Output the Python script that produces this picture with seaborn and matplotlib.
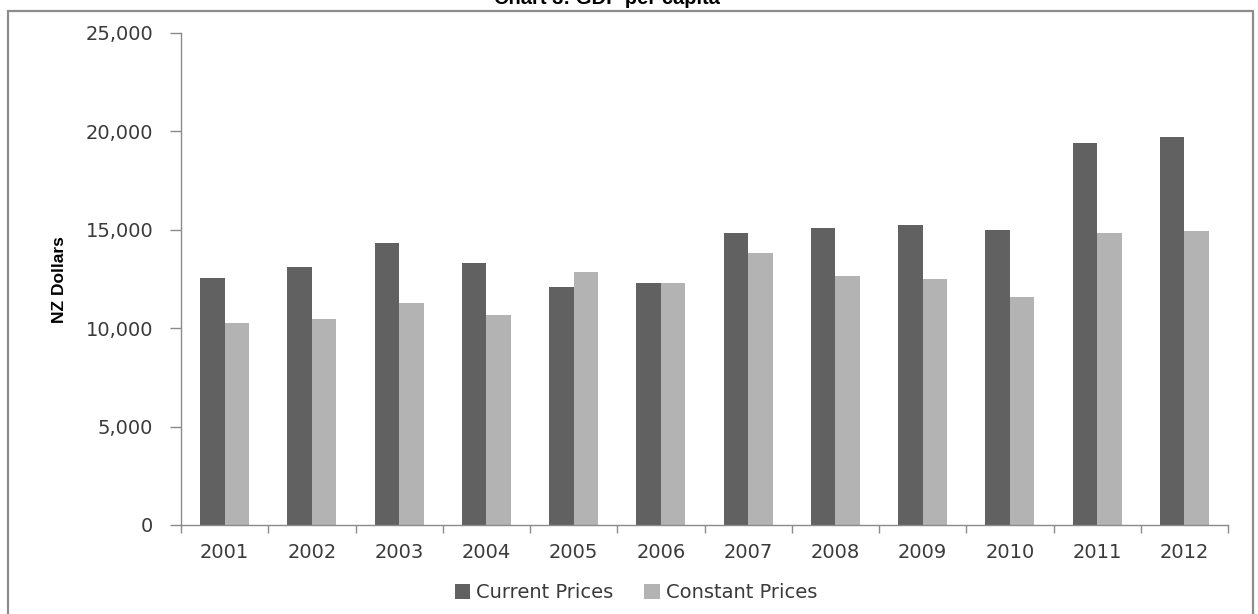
import matplotlib
matplotlib.use("Agg")
import matplotlib.pyplot as plt
from matplotlib.patches import Patch, Rectangle
from matplotlib.ticker import FuncFormatter, FixedLocator
import numpy as np
import pandas as pd
import seaborn as sns

# GDP per capita, NZ dollars
years = ["2001", "2002", "2003", "2004", "2005", "2006",
         "2007", "2008", "2009", "2010", "2011", "2012"]
current_prices = [12550, 13100, 14330, 13300, 12090, 12300,
                  14840, 15090, 15240, 14990, 19410, 19700]
constant_prices = [10260, 10450, 11280, 10670, 12850, 12300,
                   13820, 12650, 12500, 11580, 14840, 14940]
series_names = ["Current Prices", "Constant Prices"]
series_colors = ["#616161", "#b3b3b3"]

df = pd.DataFrame({
    "year": years * 2,
    "series": [series_names[0]] * len(years) + [series_names[1]] * len(years),
    "value": current_prices + constant_prices,
})

sns.set_style("white")
plt.rcParams["font.family"] = ["DejaVu Sans"]

W, H = 1258, 614
fig = plt.figure(figsize=(W / 100, H / 100), dpi=100)
ax = fig.add_axes([181 / W, 1 - 525 / H, (1228 - 181) / W, (525 - 33) / H])

sns.barplot(data=df, x="year", y="value", hue="series", order=years,
            hue_order=series_names, palette=series_colors, saturation=1,
            width=0.56, gap=0, legend=False, linewidth=0, ax=ax)

ax.set_xlim(-0.5, len(years) - 0.5)
ax.set_ylim(0, 25000)
ax.set_yticks(np.arange(0, 25001, 5000))
ax.yaxis.set_major_formatter(FuncFormatter(lambda v, p: f"{int(v):,}"))

axis_gray = "#8a8a8a"
label_gray = "#3a3a3a"
for side in ["top", "right"]:
    ax.spines[side].set_visible(False)
for side in ["left", "bottom"]:
    ax.spines[side].set_color(axis_gray)
    ax.spines[side].set_linewidth(1.0)

ax.tick_params(axis="y", which="major", direction="out", length=8, width=1,
               color=axis_gray, labelsize=14, labelcolor=label_gray, pad=12,
               left=True)
# category separators on the x axis
ax.xaxis.set_minor_locator(FixedLocator(np.arange(-0.5, len(years), 1.0)))
ax.tick_params(axis="x", which="minor", direction="out", length=6, width=1,
               color=axis_gray, bottom=True)
ax.tick_params(axis="x", which="major", length=0, labelsize=14,
               labelcolor=label_gray, pad=13)

ax.set_xlabel("")
ax.set_ylabel("")
fig.text(60 / W, 1 - 280 / H, "NZ Dollars", rotation=90, ha="center",
         va="center", fontsize=12.5, fontweight="bold", color="black",
         family=["Liberation Sans Narrow", "Liberation Sans", "DejaVu Sans"])

# title, partly running off the top of the canvas
fig.text(607 / W, 1 - 4 / H, "Chart 3: GDP per capita", ha="center",
         va="baseline", fontsize=14.5, fontweight="bold", color="black",
         family=["Liberation Sans", "DejaVu Sans"])

handles = [Patch(facecolor=c, edgecolor="none") for c in series_colors]
fig.legend(handles, series_names, loc="center", ncol=2,
           bbox_to_anchor=(636 / W, 1 - 593 / H), frameon=False,
           fontsize=14, labelcolor=label_gray, handlelength=0.8,
           handleheight=0.8, handletextpad=0.3, columnspacing=1.6)

# chart area border
fig.patches.append(Rectangle((8 / W, -0.05), (1253 - 8) / W, 1.05 - 11 / H,
                             transform=fig.transFigure, fill=False,
                             edgecolor="#8c8c8c", linewidth=1.6))

fig.savefig("out.png", dpi=100)
